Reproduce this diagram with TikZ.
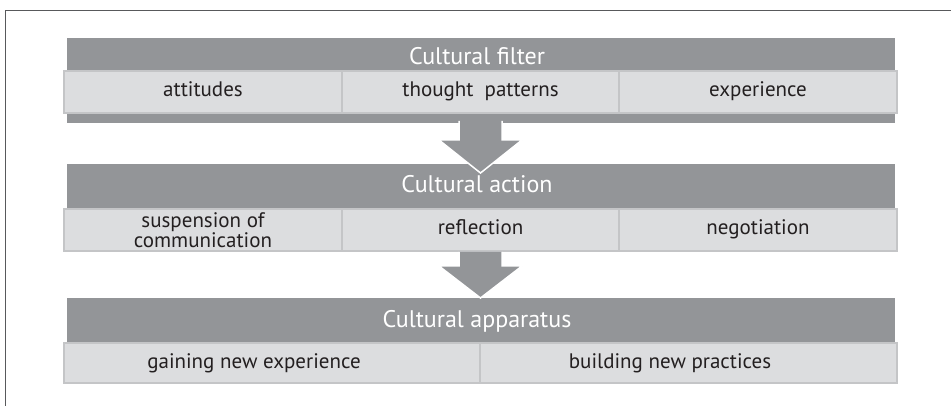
\documentclass[tikz,border=0pt]{standalone}
\usepackage{fontspec}
\setmainfont{PT Sans}
\usetikzlibrary{calc}
\definecolor{bargray}{HTML}{939598}
\definecolor{cellgray}{HTML}{DCDDDF}
\definecolor{cellline}{HTML}{C4C5C7}
\definecolor{txt}{HTML}{231F20}
\definecolor{framecol}{HTML}{58595B}
\begin{document}
\begin{tikzpicture}[x=1pt,y=-1pt,
  bar/.style={fill=bargray, draw=none, inner sep=0pt, outer sep=0pt, minimum width=828pt},
  titletext/.style={text=white, font=\fontsize{24}{28}\selectfont, inner sep=0pt, anchor=base},
  cellbox/.style={fill=cellgray, draw=cellline, line width=1.5pt, inner sep=0pt, outer sep=0pt, text=txt, font=\fontsize{21}{18}\selectfont, align=center},
  celltext/.style={cellbox, text height=14pt, text depth=4pt},
  plaintext/.style={text=txt, font=\fontsize{21}{18}\selectfont, inner sep=0pt, text height=14pt, text depth=4pt},
  blockarrow/.style={fill=bargray, draw=white, line width=1.5pt, line join=miter}]
\useasboundingbox (0,0) rectangle (951,406);
\draw[framecol, line width=1.3pt] (5.5,406) -- (5.5,10.5) -- (951,10.5);
% block 1
\node[bar, minimum height=85pt] (bar1) at (481,80.5) {};
\node[titletext] (t1) at (477,65) {Cultural filter};
\node[celltext, minimum width=278pt, minimum height=42pt] (c1a) at (203,92) {attitudes};
\node[celltext, minimum width=277pt, minimum height=42pt] (c1b) at (480.5,92) {thought\ \ patterns};
\node[celltext, minimum width=278pt, minimum height=42pt] (c1c) at (758,92) {experience};
% block 2
\node[bar, minimum height=45pt] (bar2) at (481,186.5) {};
\node[titletext] (t2) at (477,193) {Cultural action};
\node[cellbox, minimum width=278pt, minimum height=42pt] (c2a) at (203,230) {suspension of\\communication};
\node[celltext, minimum width=277pt, minimum height=42pt] (c2b) at (480.5,230) {reflection};
\node[celltext, minimum width=278pt, minimum height=42pt] (c2c) at (758,230) {negotiation};
% block 3
\node[bar, minimum height=45pt] (bar3) at (481,320.5) {};
\node[titletext] (t3) at (477,327) {Cultural apparatus};
\node[cellbox, minimum width=416pt, minimum height=40pt] (c3a) at (272,363) {};
\node[cellbox, minimum width=417pt, minimum height=40pt] (c3b) at (688.5,363) {};
\node[plaintext] (x3a) at (254,363) {gaining new experience};
\node[plaintext] (x3b) at (670,363) {building new practices};
% arrows
\filldraw[blockarrow] ($(bar1.south)+(-22,-2)$) -- ($(bar1.south)+(-22,17)$) -- ($(bar1.south)+(-42,17)$)
  -- ($(bar2.north)+(-0.5,9)$) -- ($(bar1.south)+(41,17)$) -- ($(bar1.south)+(21,17)$) -- ($(bar1.south)+(21,-2)$);
\filldraw[blockarrow] ($(c2b.south)+(-21.5,1)$) -- ($(c2b.south)+(-21.5,15)$) -- ($(c2b.south)+(-41.5,15)$)
  -- ($(bar3.north)+(-0.5,0)$) -- ($(c2b.south)+(41.5,15)$) -- ($(c2b.south)+(21.5,15)$) -- ($(c2b.south)+(21.5,1)$);
\end{tikzpicture}
\end{document}
